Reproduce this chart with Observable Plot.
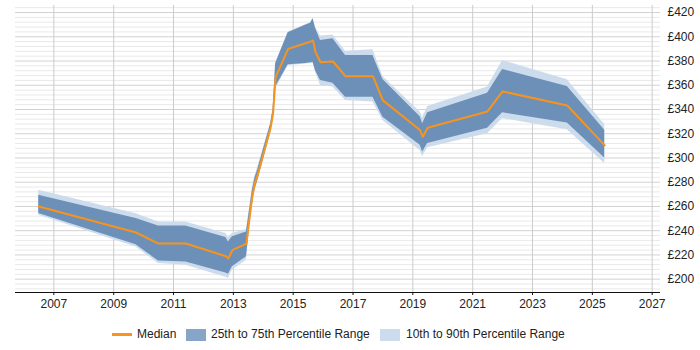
<!DOCTYPE html>
<html>
<head>
<meta charset="utf-8">
<script src="https://cdn.jsdelivr.net/npm/d3@7"></script>
<script src="https://cdn.jsdelivr.net/npm/@observablehq/plot@0.6"></script>
<style>
  body { margin: 0; background: #fff; font-family: "Liberation Sans", Arial, sans-serif; }
  #wrap { position: relative; width: 700px; height: 350px; }
  .lg { position: absolute; font-size: 12px; line-height: 14px; color: #222; white-space: nowrap; }
  .sw { position: absolute; }
</style>
</head>
<body>
<div id="wrap"></div>
<script>
// Sampled dates of the salary series
const dates = [
  "2006-07", "2009-10", "2010-07", "2011-06", "2012-10", "2012-11", "2012-12-20",
  "2013-06-10", "2013-07-20", "2013-08-20", "2013-09-20", "2013-10-20", "2014-04", "2014-05", "2014-06", "2014-11",
  "2015-06", "2015-08", "2015-09", "2015-10", "2015-12", "2016-05", "2016-10",
  "2017-09", "2018-01", "2019-04", "2019-05", "2019-07", "2021-07", "2022-01",
  "2024-03", "2025-06"
];
// Percentiles (GBP)
const p10 = [252.7, 226.6, 212.9, 211.5, 201.5, 200.6, 207.4,
  215.6, 243, 260, 272, 279, 320, 331, 357, 376,
  377.5, 378, 378, 371, 359.8, 358.5, 347.5,
  346.1, 331, 306, 301, 308.5, 320, 332.5,
  323.3, 295.5];
const p25 = [254.1, 228.5, 215, 214.2, 205, 204.1, 210.2,
  218.4, 245, 262, 274, 280, 321, 332, 358.5, 376.9,
  378, 378.5, 379, 372, 364, 361.7, 350.2,
  350.2, 333.5, 310.4, 305, 312, 324.5, 337.3,
  328.8, 300];
const p50 = [260, 238.5, 229.4, 229.4, 218.9, 217, 223.9,
  229.4, 252, 268, 279, 285, 325, 336.5, 366.7, 390,
  394.7, 396, 396.9, 387.3, 379, 379.6, 367.5,
  367.5, 347.5, 322.8, 317.3, 325, 338.4, 354.9,
  343.3, 310.4];
const p75 = [269.2, 250, 243.9, 243.9, 234.3, 230.7, 234.9,
  239, 258, 273, 283, 289, 328, 340, 377.7, 403.3,
  409.5, 411.2, 414.8, 407, 396.9, 398.3, 384.6,
  384.6, 364.8, 334, 328.3, 337.3, 353.5, 373,
  359, 322.8];
const p90 = [273.3, 254, 247.2, 247.2, 237.6, 234.3, 237.6,
  240.9, 260, 275, 285, 291, 329, 341, 378.5, 404,
  410, 411.5, 415, 408, 400.7, 401.5, 388.1,
  389.3, 367.3, 338, 333, 342.5, 358.5, 380.4,
  364.5, 327.7];

const yearTicks = d3.range(2007, 2028, 2);
const yTicks = d3.range(200, 421, 20);
const yMinor = d3.range(192, 425, 4).filter(v => v % 20 !== 0);

const rows = dates.map((d, i) => ({
  date: new Date(d), p10: p10[i], p25: p25[i], p50: p50[i], p75: p75[i], p90: p90[i]
}));

const ORANGE = "#f7941d";
const DARK = "#6d90b8";
const LIGHT = "#cddcec";
const yMin = 189, yMax = 425.8;

const chart = Plot.plot({
  width: 700,
  height: 315,
  marginLeft: 15,
  marginRight: 40,
  marginTop: 5,
  marginBottom: 23,
  style: { fontFamily: "'Liberation Sans', Arial, sans-serif", fontSize: "12px", color: "#222", background: "#fff" },
  x: { type: "utc", domain: [new Date(Date.UTC(2005, 8, 20)), new Date(Date.UTC(2027, 3, 13))] },
  y: { domain: [yMin, yMax] },
  marks: [
    Plot.gridY(yMinor, { stroke: "#e9e9e9", strokeOpacity: 1 }),
    Plot.gridY(yTicks, { stroke: "#d2d2d2", strokeOpacity: 1 }),
    Plot.gridX(yearTicks.map(y => new Date(Date.UTC(y, 0, 1))), { stroke: "#cccccc", strokeOpacity: 1 }),
    Plot.areaY(rows, { x: "date", y1: "p10", y2: "p90", fill: LIGHT }),
    Plot.areaY(rows, { x: "date", y1: "p25", y2: "p75", fill: DARK }),
    Plot.lineY(rows, { x: "date", y: "p50", stroke: ORANGE, strokeWidth: 2 }),
    Plot.ruleY([yMin], { stroke: "#111", strokeWidth: 1.2 }),
    Plot.axisX(yearTicks.map(y => new Date(Date.UTC(y, 0, 1))), {
      tickFormat: d3.utcFormat("%Y"), tickSize: 3, tickPadding: 4, label: null, stroke: "#111", fill: "#222"
    }),
    Plot.axisY(yTicks, {
      anchor: "right", tickFormat: d => "£" + d, tickSize: 0, tickPadding: 7, label: null, fill: "#222", textAnchor: "start"
    })
  ]
});

const wrap = document.getElementById("wrap");
wrap.appendChild(chart);

// Legend below the chart
function addBox(left, top, w, h, color) {
  const el = document.createElement("div");
  el.className = "sw";
  Object.assign(el.style, { left: left + "px", top: top + "px", width: w + "px", height: h + "px", background: color });
  wrap.appendChild(el);
}
function addText(left, text) {
  const el = document.createElement("div");
  el.className = "lg";
  el.style.left = left + "px";
  el.style.top = "327px";
  el.textContent = text;
  wrap.appendChild(el);
}
addBox(112, 333, 20, 3, ORANGE);
addText(137, "Median");
addBox(186, 329, 20, 12, "#87a5c6");
addText(211, "25th to 75th Percentile Range");
addBox(380, 329, 20, 12, LIGHT);
addText(406, "10th to 90th Percentile Range");
</script>
</body>
</html>
